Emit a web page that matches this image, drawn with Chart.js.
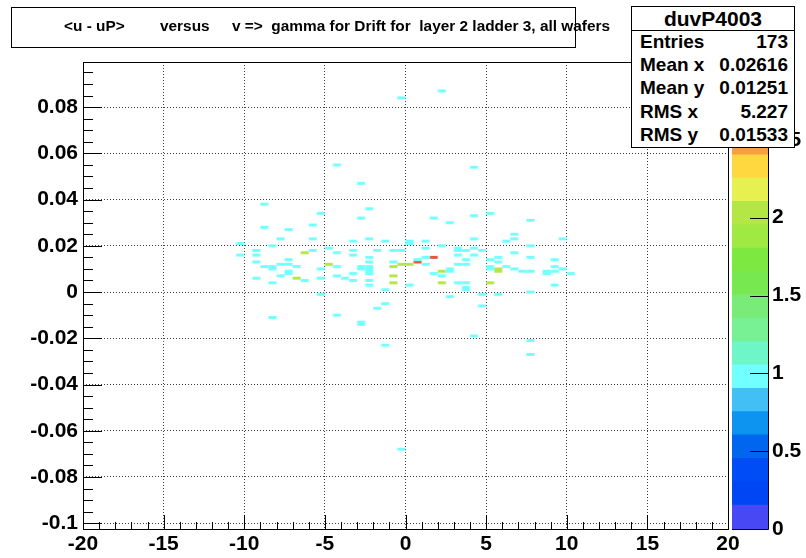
<!DOCTYPE html>
<html>
<head>
<meta charset="utf-8">
<script src="https://cdn.jsdelivr.net/npm/chart.js@4.4.0/dist/chart.umd.min.js"></script>
<style>
html, body { margin: 0; padding: 0; background: #fff; }
#wrap { position: relative; width: 806px; height: 558px; overflow: hidden; font-family: "Liberation Sans", Arial, sans-serif; }
#main { position: absolute; left: 0; top: 0; }
#pal { position: absolute; left: 700px; top: 0; }
#title { position: absolute; left: 11px; top: 7px; width: 563px; height: 39px; border: 1px solid #000; background: #fff; }
.tseg { position: absolute; top: 17px; font: bold 15.4px "Liberation Sans", Arial, sans-serif; white-space: pre; line-height: 18px; color: #000; }
#stats { position: absolute; left: 631px; top: 6px; width: 162px; height: 140px; border: 1px solid #000; background: #fff; }
#stats .head { position: absolute; left: 0; top: 0; width: 162px; height: 23px; border-bottom: 1px solid #000; text-align: center; font: bold 21px "Liberation Sans", Arial, sans-serif; line-height: 24px; }
#stats .row { position: absolute; left: 8px; width: 148px; height: 22px; line-height: 22px; font: bold 19px "Liberation Sans", Arial, sans-serif; }
#stats .row span { position: absolute; right: 0; top: 0; }
</style>
</head>
<body>
<div id="wrap">
  <canvas id="main" width="806" height="558"></canvas>
  <canvas id="pal" width="106" height="558"></canvas>
  <div id="title"></div>
  <div id="stats"></div>
</div>
<script>
// histogram binning
var binWX = 0.5, binWY = 0.001;
var xTicks = [-20, -15, -10, -5, 0, 5, 10, 15, 20];
var yTicks = [-0.1, -0.08, -0.06, -0.04, -0.02, 0, 0.02, 0.04, 0.06, 0.08];
var zTicks = [0, 0.5, 1, 1.5, 2, 2.5];
var zMax = 3;

// bins with 1 entry (bin centres)
var ones_x = [2.25, -0.25, -4.25, 4.25, -2.75, -8.75, -5.25, -2.25, -2.75, 1.75, 4.25, 5.25, 7.75,
  -8.75, -7.25, -5.75, -7.75, -5.75, -10.25, -8.25, -9.25, -5.75, -4.75, -4.25, -3.25, -3.25, -1.75,
  -0.75, -0.25, -2.25, -1.25, -10.25, -9.25, -3.25, -2.25, -7.25, -9.25, -2.25, -0.75, -7.75, -7.25,
  -8.75, -8.25, -6.75, -4.25, -2.75, -2.25, -8.25, -5.25, -2.75, -2.25, -7.25, -2.25, -7.25, -3.25,
  -2.25, -7.75, -4.25, -9.25, -5.25, -3.75, -6.25, -3.25, -2.25, -8.25, -2.25, -1.25, -5.25,
  2.75, 6.75, 6.75, 6.25, 9.75, 4.25, 0.25, 0.25, 1.25, 2.25, 1.25, 3.25, 3.25, 3.75, 4.25, 4.75,
  3.25, 4.25, 3.75, 3.25, 3.75, 1.25, 1.25, 2.75, 2.75, 1.75, 2.25, 3.25, 3.75, 3.75, 3.75, 2.75,
  4.75, 0.25, 5.25, 5.75, 5.75, 5.25, 5.25, 6.25, 6.75, 7.25, 7.75, 8.75, 8.75, 9.25, 9.25, 9.25,
  9.75, 10.25, 9.25, 7.75, 7.75, 6.75, 5.75, 7.75, 0.75,
  -1.25, -1.75, -4.25, -2.75, -2.75, -8.25, 4.75, 4.25, -1.25, 7.75, 7.75, -0.25];
var ones_y = [0.087, 0.084, 0.055, 0.054, 0.047, 0.038, 0.034, 0.036, 0.032, 0.032, 0.033, 0.034, 0.031,
  0.028, 0.027, 0.029, 0.023, 0.023, 0.021, 0.020, 0.018, 0.018, 0.019, 0.017, 0.022, 0.018, 0.018,
  0.018, 0.018, 0.023, 0.022, 0.016, 0.016, 0.016, 0.015, 0.014, 0.013, 0.013, 0.013, 0.012, 0.012,
  0.011, 0.011, 0.011, 0.011, 0.011, 0.011, 0.010, 0.010, 0.010, 0.010, 0.009, 0.009, 0.008, 0.008,
  0.008, 0.007, 0.007, 0.006, 0.006, 0.006, 0.005, 0.005, 0.005, 0.004, 0.003, 0.001, -0.001,
  0.030, 0.025, 0.023, 0.022, 0.023, 0.023, 0.022, 0.021, 0.022, 0.020, 0.019, 0.019, 0.018, 0.018, 0.019, 0.018,
  0.016, 0.016, 0.014, 0.012, 0.012, 0.015, 0.012, 0.010, 0.009, 0.008, 0.007, 0.004, 0.004, 0.002, 0.001, -0.002,
  -0.001, 0.003, 0.014, 0.015, 0.013, 0.011, 0.010, 0.011, 0.010, 0.009, 0.009, 0.009, 0.008, 0.009, 0.014, 0.011,
  0.010, 0.008, 0.003, 0.020, 0.015, 0.017, -0.001, 0.000, 0.014,
  -0.005, -0.007, -0.010, -0.013, -0.014, -0.011, -0.006, -0.019, -0.023, -0.021, -0.027, -0.068];

// bins with 2 entries
var twos_x = [-6.25, -4.75, -6.75, -0.75, -0.75, -0.75, -0.25, 0.25, 2.25, 2.25, 5.75, 5.75, 5.25];
var twos_y = [0.017, 0.012, 0.006, 0.011, 0.007, 0.004, 0.012, 0.012, 0.009, 0.004, 0.010, 0.009, 0.004];

// bins with 3 entries
var threes_x = [0.75, 1.75];
var threes_y = [0.013, 0.015];

var statsTitle = "duvP4003";
var statsLabels = ["Entries", "Mean x", "Mean y", "RMS x", "RMS y"];
var statsValues = ["173", "0.02616", "0.01251", "5.227", "0.01533"];
var titleParts = ["<u - uP>", "versus", "v =>  gamma for Drift for  layer 2 ladder 3, all wafers"];
var titleLeft = [64, 160, 232];

// colz palette, bottom to top
var palette = ['#4848f5', '#0046f5', '#004cf5', '#0066f0', '#0c94f0', '#42c0f5', '#72ffff', '#6ef5c8',
  '#78f094', '#78eb78', '#78e850', '#7ce840', '#a0e842', '#b4e646', '#e6f050', '#ffd840',
  '#f5a040', '#f07834', '#ec5c38', '#e6503c'];
var FONT = '"Liberation Sans", Arial, sans-serif';

function colorFor(v) {
  var band = Math.floor(v / (zMax / palette.length));
  return palette[Math.min(band, palette.length - 1)];
}

var cellCache = {};
function cellStyle(ctx, v) {
  var xs = ctx.chart.scales.x, ys = ctx.chart.scales.y;
  var w = Math.abs(xs.getPixelForValue(binWX) - xs.getPixelForValue(0));
  var h = Math.abs(ys.getPixelForValue(binWY) - ys.getPixelForValue(0));
  var key = v + '_' + w.toFixed(2) + '_' + h.toFixed(2);
  if (!cellCache[key]) {
    var c = document.createElement('canvas');
    c.width = Math.ceil(w) + 2;
    c.height = Math.ceil(h) + 2;
    var g = c.getContext('2d');
    g.fillStyle = colorFor(v);
    g.fillRect((c.width - w) / 2, (c.height - h) / 2 - 0.3, w, h + 0.6);
    cellCache[key] = c;
  }
  return cellCache[key];
}

function makeSet(xs, ys, v) {
  return {
    data: xs.map(function (x, i) { return { x: x, y: ys[i] }; }),
    pointStyle: function (ctx) { return cellStyle(ctx, v); },
    pointRadius: 1,
    showLine: false
  };
}

var frameTicks = {
  id: 'frameTicks',
  afterDraw: function (chart) {
    var ctx = chart.ctx, a = chart.chartArea, x = chart.scales.x, y = chart.scales.y;
    ctx.save();
    ctx.strokeStyle = '#000';
    ctx.lineWidth = 1;
    ctx.strokeRect(a.left + 0.5, a.top + 0.5, a.right - a.left, a.bottom - a.top);
    ctx.beginPath();
    for (var i = -20; i <= 20; i++) {
      var px = Math.round(x.getPixelForValue(i)) + 0.5;
      var len = i % 5 === 0 ? 14 : 7;
      ctx.moveTo(px, a.bottom);
      ctx.lineTo(px, a.bottom - len);
    }
    for (var j = -20; j <= 19; j++) {
      var py = Math.round(y.getPixelForValue(j * 0.005)) + 0.5;
      var l2 = j % 4 === 0 ? 19 : 10;
      ctx.moveTo(a.left, py);
      ctx.lineTo(a.left + l2, py);
    }
    ctx.stroke();
    ctx.restore();
  }
};

var tickFont = { family: FONT, size: 21, weight: 'bold' };

new Chart(document.getElementById('main').getContext('2d'), {
  type: 'scatter',
  data: {
    datasets: [makeSet(ones_x, ones_y, 1), makeSet(twos_x, twos_y, 2), makeSet(threes_x, threes_y, 3)]
  },
  options: {
    responsive: false,
    animation: false,
    events: [],
    layout: { padding: { left: 0, right: 78, top: 62, bottom: 0 } },
    plugins: { legend: { display: false }, tooltip: { enabled: false } },
    scales: {
      x: {
        type: 'linear', min: -20, max: 20,
        afterBuildTicks: function (s) { s.ticks = xTicks.map(function (v) { return { value: v }; }); },
        afterFit: function (s) { s.height = 29; },
        ticks: { font: tickFont, color: '#000', padding: 3, maxRotation: 0, autoSkip: false },
        grid: { color: 'rgba(0,0,0,0.75)', drawTicks: false },
        border: { display: false, dash: [1, 2] }
      },
      y: {
        type: 'linear', min: -0.1025, max: 0.0995,
        afterBuildTicks: function (s) { s.ticks = yTicks.map(function (v) { return { value: v }; }); },
        afterFit: function (s) { s.width = 83; },
        ticks: {
          font: tickFont, color: '#000', padding: 5,
          callback: function (v) { return String(Number(v.toFixed(2))); }
        },
        grid: { color: 'rgba(0,0,0,0.75)', drawTicks: false },
        border: { display: false, dash: [1, 2] }
      }
    }
  },
  plugins: [frameTicks]
});

// palette (colour scale)
var paletteTicks = {
  id: 'paletteTicks',
  afterDraw: function (chart) {
    var ctx = chart.ctx, a = chart.chartArea, y = chart.scales.y;
    ctx.save();
    ctx.strokeStyle = '#000';
    ctx.lineWidth = 1;
    ctx.beginPath();
    ctx.moveTo(a.right + 0.5, a.top);
    ctx.lineTo(a.right + 0.5, a.bottom + 0.5);
    ctx.lineTo(a.left, a.bottom + 0.5);
    zTicks.forEach(function (v) {
      var py = Math.round(y.getPixelForValue(v)) + 0.5;
      ctx.moveTo(a.right, py);
      ctx.lineTo(a.right - 18, py);
    });
    ctx.stroke();
    ctx.restore();
  }
};

new Chart(document.getElementById('pal').getContext('2d'), {
  type: 'bar',
  data: {
    labels: ['z'],
    datasets: palette.map(function (c) {
      return {
        data: [zMax / palette.length], backgroundColor: c, borderColor: c,
        borderWidth: 0, inflateAmount: 1, barPercentage: 1, categoryPercentage: 1
      };
    })
  },
  options: {
    responsive: false,
    animation: false,
    events: [],
    layout: { padding: { left: 32, right: 0, top: 62, bottom: 29 } },
    plugins: { legend: { display: false }, tooltip: { enabled: false } },
    scales: {
      x: { stacked: true, display: false },
      y: {
        stacked: true, position: 'right', min: 0, max: zMax,
        afterBuildTicks: function (s) { s.ticks = zTicks.map(function (v) { return { value: v }; }); },
        afterFit: function (s) { s.width = 38; },
        ticks: { font: tickFont, color: '#000', padding: 4, callback: function (v) { return String(v); } },
        grid: { display: false, drawTicks: false },
        border: { display: false }
      }
    }
  },
  plugins: [paletteTicks]
});

// title and stats panes
var wrap = document.getElementById('wrap');
titleParts.forEach(function (t, i) {
  var d = document.createElement('div');
  d.className = 'tseg';
  d.style.left = titleLeft[i] + 'px';
  d.textContent = t;
  wrap.insertBefore(d, document.getElementById('stats'));
});
var st = document.getElementById('stats');
var head = document.createElement('div');
head.className = 'head';
head.textContent = statsTitle;
st.appendChild(head);
var rowCenters = [35, 58, 81, 105, 128];
statsLabels.forEach(function (lab, i) {
  var r = document.createElement('div');
  r.className = 'row';
  r.style.top = (rowCenters[i] - 11) + 'px';
  r.textContent = lab;
  var s = document.createElement('span');
  s.textContent = statsValues[i];
  r.appendChild(s);
  st.appendChild(r);
});
</script>
</body>
</html>
